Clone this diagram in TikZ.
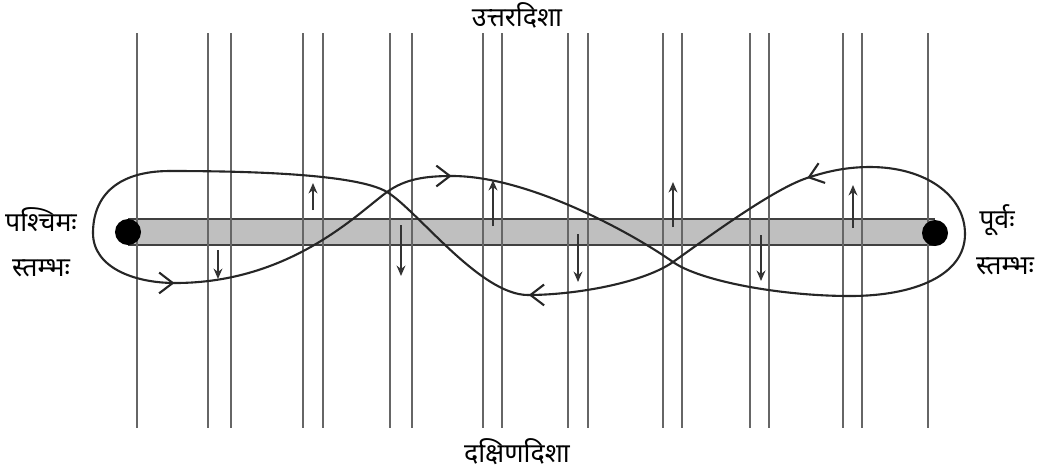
\documentclass[tikz,border=0pt]{standalone}
\usepackage{fontspec}
\newfontfamily\devfont[Script=Devanagari]{Noto Sans}
\usetikzlibrary{arrows.meta,decorations.markings}

\begin{document}
\begin{tikzpicture}[x=0.025cm, y=-0.025cm,
    wire/.style={draw=black!60, line width=1.2pt},
    rope/.style={draw=black!85, line width=1.5pt, line cap=round},
    flow/.style={postaction={decorate, decoration={markings,
        mark=at position #1 with {\arrow{Straight Barb[length=3.4mm,width=5.2mm]}}}}},
    move/.style={draw=black!80, line width=1.2pt, -{Stealth[length=2.6mm,width=2.2mm]}},
    pole/.style={circle, fill=black, inner sep=0pt, minimum size=0.65cm},
    lbl/.style={font=\devfont\fontsize{19}{22}\selectfont, inner sep=0pt}]
    \useasboundingbox (0,0) rectangle (1040,470);

    % beam and warp threads
    \fill[black!25] (128,219) rectangle (935,245);
    \draw[black!75, line width=1pt] (128,219) -- (935,219) (128,245) -- (935,245);
    \foreach \x in {137,208,231,303,323,390,412,483,502,568,588,663,682,750,769,843,862,928}
        \draw[wire] (\x,33) -- (\x,428);

    \node[pole] (west) at (128,232) {};
    \node[pole] (east) at (935,233) {};

    % path of the thread
    \coordinate (xw) at (387,192);
    \coordinate (xe) at (673,262);
    \coordinate (tn) at (452,176);
    \coordinate (se) at (850,296);
    \coordinate (ee) at (965,234);
    \coordinate (ne) at (870,167);
    \coordinate (ar) at (807,178);
    \coordinate (sm) at (528,295);
    \coordinate (nw) at (170,171);
    \coordinate (ww) at (93,233);
    \coordinate (sw) at (175,283);

    \draw[rope, flow=0.995] (xw) .. controls (405,179) and (425,176) .. (tn);
    \draw[rope] (tn) .. controls (530,176) and (635,235) .. (xe);
    \draw[rope] (xe) .. controls (700,281) and (780,296) .. (se);
    \draw[rope] (se) .. controls (915,296) and (965,275) .. (ee);
    \draw[rope] (ee) .. controls (965,195) and (925,167) .. (ne);
    \draw[rope, flow=0.995] (ne) .. controls (845,167) and (825,172) .. (ar);
    \draw[rope] (ar) .. controls (771,190) and (703,241) .. (xe);
    \draw[rope, flow=0.995] (xe) .. controls (643,283) and (575,295) .. (sm);
    \draw[rope] (sm) .. controls (480,295) and (417,210) .. (xw);
    \draw[rope] (xw) .. controls (357,174) and (250,171) .. (nw);
    \draw[rope] (nw) .. controls (115,171) and (93,198) .. (ww);
    \draw[rope, flow=0.995] (ww) .. controls (93,268) and (135,283) .. (sw);
    \draw[rope] (sw) .. controls (290,283) and (357,214) .. (xw);

    % small arrows between thread pairs
    \foreach \x/\a/\b in {313/210/183, 493/226/180, 673/227/182, 853/228/185,
                          218/250/279, 401/225/276, 578/234/282, 761/235/281}
        \draw[move] (\x,\a) -- (\x,\b);

    \node[lbl] (north) at (517,15) {उत्तरदिशा};
    \node[lbl] (south) at (517,452) {दक्षिणदिशा};
    \node[lbl] (westa) at (41,220) {पश्चिमः};
    \node[lbl] (westb) at (41,268) {स्तम्भः};
    \node[lbl] (easta) at (997,220) {पूर्वः};
    \node[lbl] (eastb) at (1005,266) {स्तम्भः};
\end{tikzpicture}
\end{document}
